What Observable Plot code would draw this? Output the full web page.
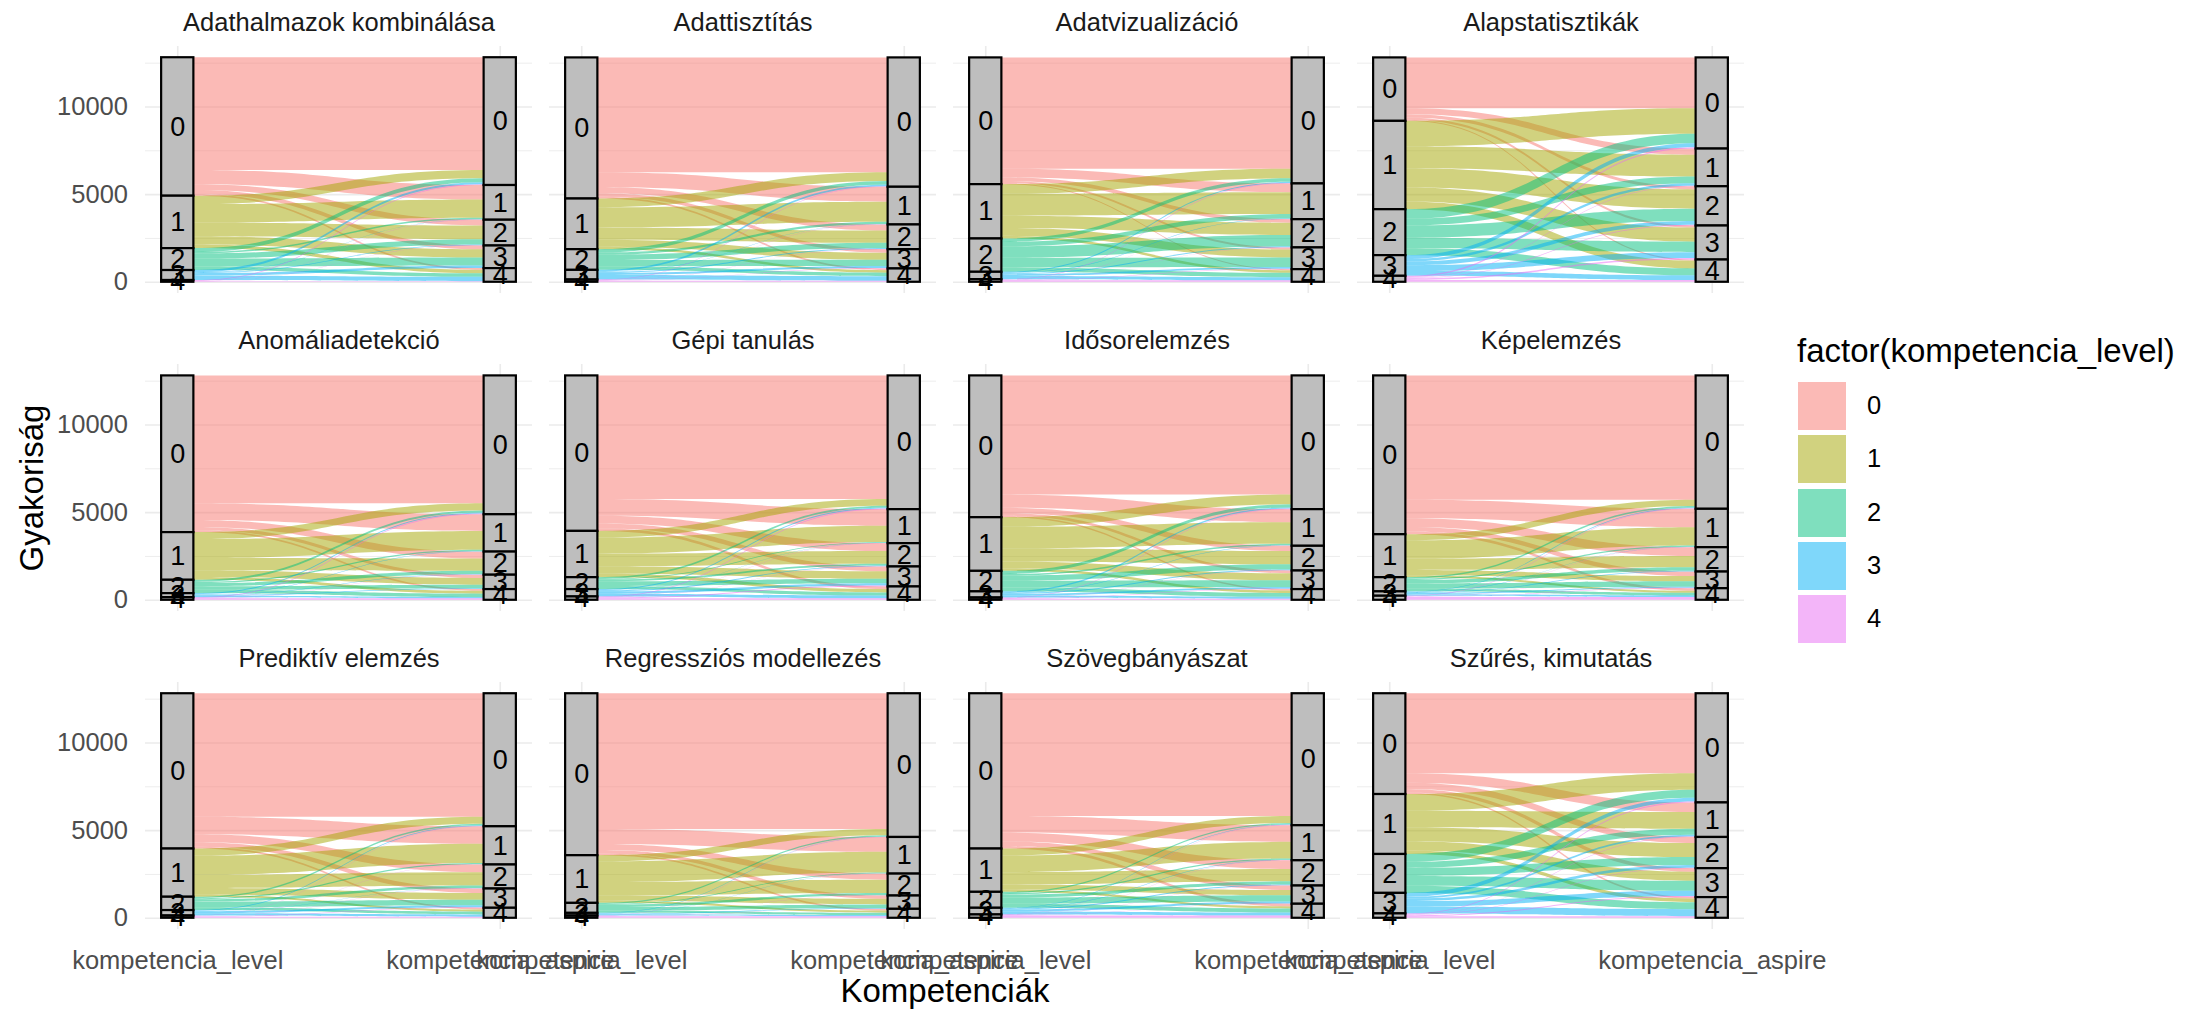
<!DOCTYPE html>
<html>
<head>
<meta charset="utf-8">
<script src="https://cdn.jsdelivr.net/npm/d3@7"></script>
<script src="https://cdn.jsdelivr.net/npm/@observablehq/plot@0.6"></script>
<style>
  html, body { margin: 0; padding: 0; background: #ffffff; }
  #wrap { position: relative; width: 2205px; height: 1011px; overflow: hidden;
          font-family: "Liberation Sans", Arial, Helvetica, sans-serif; }
  #wrap svg { position: absolute; left: 0; top: 0; }
  .lbl { position: absolute; white-space: nowrap; line-height: 1; }
</style>
</head>
<body>
<div id="wrap"></div>
<script>
// ---------------- data ----------------
const facetTitles = [
  "Adathalmazok kombinálása", "Adattisztítás", "Adatvizualizáció", "Alapstatisztikák",
  "Anomáliadetekció", "Gépi tanulás", "Idősorelemzés", "Képelemzés",
  "Prediktív elemzés", "Regressziós modellezés", "Szövegbányászat", "Szűrés, kimutatás"
];
const levelNames = ["0", "1", "2", "3", "4"];
const axisLabels = ["kompetencia_level", "kompetencia_aspire"];
const levelColors = ["#F8766D", "#A3A500", "#00BF7D", "#00B0F6", "#E76BF3"];
const yTicksMajor = [0, 5000, 10000];
const yTicksMinor = [2500, 7500, 12500];
const legendTitle = "factor(kompetencia_level)";
const xTitle = "Kompetenciák";
const yTitle = "Gyakoriság";

// flow counts: rows = kompetencia_level 0..4, columns = kompetencia_aspire 0..4
const flowAdathalmazok = [
  [6430, 820, 330, 220, 100],
  [480, 1050, 790, 470, 200],
  [220, 80, 300, 450, 200],
  [120, 20, 40, 140, 250],
  [40, 10, 10, 10, 30]
];
const flowAdattisztitas = [
  [6550, 850, 350, 200, 100],
  [500, 1150, 700, 400, 140],
  [200, 120, 300, 360, 200],
  [100, 20, 50, 120, 260],
  [30, 10, 10, 20, 60]
];
const flowAdatvizualizacio = [
  [6350, 500, 200, 120, 60],
  [550, 1250, 700, 450, 150],
  [200, 250, 650, 550, 250],
  [60, 30, 50, 100, 180],
  [30, 10, 10, 20, 80]
];
const flowAlapstatisztikak = [
  [2900, 350, 180, 120, 70],
  [1450, 1250, 1100, 800, 440],
  [550, 380, 700, 600, 390],
  [220, 140, 220, 330, 270],
  [80, 30, 40, 90, 100]
];
const flowAnomaliadetekcio = [
  [7300, 950, 400, 190, 100],
  [400, 1080, 700, 380, 160],
  [120, 70, 180, 200, 190],
  [60, 20, 30, 40, 80],
  [40, 10, 10, 10, 80]
];
const flowGepiTanulas = [
  [7050, 950, 450, 270, 150],
  [380, 920, 720, 430, 190],
  [100, 40, 100, 260, 180],
  [60, 20, 50, 130, 160],
  [40, 10, 10, 50, 80]
];
const flowIdosorelemzes = [
  [6800, 750, 300, 160, 80],
  [550, 1220, 750, 400, 140],
  [180, 90, 300, 380, 220],
  [70, 20, 50, 100, 110],
  [30, 10, 10, 20, 60]
];
const flowKepelemzes = [
  [7100, 1050, 500, 260, 150],
  [350, 1040, 650, 300, 110],
  [90, 70, 200, 300, 150],
  [40, 20, 30, 70, 90],
  [30, 10, 10, 20, 160]
];
const flowPrediktiv = [
  [7050, 1000, 450, 260, 100],
  [400, 1100, 750, 380, 120],
  [80, 60, 140, 320, 160],
  [40, 10, 20, 110, 130],
  [20, 10, 10, 30, 60]
];
const flowRegresszios = [
  [7750, 850, 350, 190, 100],
  [350, 1180, 750, 320, 120],
  [70, 40, 130, 200, 130],
  [20, 10, 10, 40, 70],
  [10, 10, 10, 10, 90]
];
const flowSzovegbanyaszat = [
  [7000, 950, 500, 260, 150],
  [400, 950, 700, 300, 120],
  [80, 70, 180, 350, 230],
  [30, 20, 50, 110, 170],
  [20, 10, 10, 20, 130]
];
const flowSzures = [
  [4560, 550, 350, 200, 90],
  [950, 950, 800, 520, 200],
  [450, 350, 450, 570, 400],
  [220, 100, 150, 300, 400],
  [50, 20, 30, 60, 90]
];
const flowMatrices = [
  flowAdathalmazok, flowAdattisztitas, flowAdatvizualizacio, flowAlapstatisztikak,
  flowAnomaliadetekcio, flowGepiTanulas, flowIdosorelemzes, flowKepelemzes,
  flowPrediktiv, flowRegresszios, flowSzovegbanyaszat, flowSzures
];

// ---------------- build tables ----------------
const NCOL = 4;
const hw = 0.05; // half width of a stratum (x units)
const strata = [];
const flowPts = [];
const facetInfo = [];
let T = 0;
flowMatrices.forEach((M, f) => {
  const col = f % NCOL, row = Math.floor(f / NCOL);
  facetInfo.push({col, row, title: facetTitles[f]});
  const L = M.map(r => d3.sum(r));
  const R = levelNames.map((_, k) => d3.sum(M, r => r[k]));
  const total = d3.sum(L);
  T = Math.max(T, total);
  const topL = [], topR = [];
  let acc = total;
  for (let j = 0; j < 5; j++) { topL.push(acc); strata.push({col, row, axis: 1, level: j, y1: acc - L[j], y2: acc}); acc -= L[j]; }
  acc = total;
  for (let k = 0; k < 5; k++) { topR.push(acc); strata.push({col, row, axis: 2, level: k, y1: acc - R[k], y2: acc}); acc -= R[k]; }
  const curL = topL.slice(), curR = topR.slice();
  for (let j = 0; j < 5; j++) {
    for (let k = 0; k < 5; k++) {
      const v = M[j][k];
      if (!v) continue;
      const id = f + "-" + j + "-" + k;
      const l2 = curL[j], l1 = l2 - v; curL[j] = l1;
      const r2 = curR[k], r1 = r2 - v; curR[k] = r1;
      flowPts.push({id, col, row, level: levelNames[j], x: 1 + hw, y1: l1, y2: l2});
      flowPts.push({id, col, row, level: levelNames[j], x: 2 - hw, y1: r1, y2: r2});
    }
  }
});

const FONT = '"Liberation Sans", Arial, Helvetica, sans-serif';

const chart = Plot.plot({
  width: 2205,
  height: 1011,
  marginLeft: 145,
  marginRight: 460,
  marginTop: 46,
  marginBottom: 81.5,
  style: {fontFamily: FONT, background: "transparent", overflow: "visible"},
  x: {domain: [0.9, 2.1]},
  y: {domain: [-0.05 * T, 1.05 * T]},
  fx: {domain: [0, 1, 2, 3], axis: null, paddingInner: 0.042, paddingOuter: 0},
  fy: {domain: [0, 1, 2], axis: null, paddingInner: 0.224, paddingOuter: 0},
  color: {domain: levelNames, range: levelColors},
  marks: [
    Plot.ruleY(yTicksMinor, {stroke: "#EBEBEB", strokeWidth: 0.9}),
    Plot.ruleY(yTicksMajor, {stroke: "#EBEBEB", strokeWidth: 1.6}),
    Plot.ruleX([1, 2], {stroke: "#EBEBEB", strokeWidth: 1.6}),
    Plot.area(flowPts, {
      x1: "x", y1: "y1", y2: "y2", z: "id",
      fill: "level", fillOpacity: 0.5, curve: "bump-x",
      fx: "col", fy: "row"
    }),
    Plot.rect(strata, {
      x1: d => d.axis - hw, x2: d => d.axis + hw, y1: "y1", y2: "y2",
      fill: "#BEBEBE", stroke: "#000000", strokeWidth: 2.2,
      fx: "col", fy: "row"
    }),
    Plot.text(strata, {
      x: "axis", y: d => (d.y1 + d.y2) / 2, text: d => levelNames[d.level],
      fontSize: 27, fill: "#000000", fx: "col", fy: "row"
    }),
    Plot.text(facetInfo, {
      fx: "col", fy: "row", text: "title", frameAnchor: "top", dy: -24,
      lineAnchor: "middle", fontSize: 25.5, fill: "#1A1A1A"
    }),
    Plot.axisY({
      ticks: yTicksMajor, tickSize: 0, tickPadding: 17.5, fontSize: 25.5,
      fill: "#4D4D4D", label: null, tickFormat: d => String(d)
    }),
    Plot.axisX({
      ticks: [1, 2], tickSize: 0, tickPadding: 21, fontSize: 25.5,
      fill: "#4D4D4D", label: null, tickFormat: d => axisLabels[d - 1]
    })
  ]
});

const wrap = document.getElementById("wrap");
wrap.appendChild(chart);

function addLabel(text, css) {
  const el = document.createElement("div");
  el.className = "lbl";
  el.textContent = text;
  Object.assign(el.style, css);
  wrap.appendChild(el);
  return el;
}

// axis titles
addLabel(xTitle, {left: "945px", top: "991px", fontSize: "33px", lineHeight: "1.15", color: "#000",
  transform: "translate(-50%, -50%)"});
addLabel(yTitle, {left: "31px", top: "488px", fontSize: "33px", color: "#000",
  transform: "translate(-50%, -50%) rotate(-90deg)"});

// legend
addLabel(legendTitle, {left: "1797px", top: "350px", fontSize: "33px", color: "#000",
  transform: "translate(0, -50%)"});
levelNames.forEach((name, i) => {
  const top = 382 + i * 53.3;
  const key = document.createElement("div");
  Object.assign(key.style, {position: "absolute", left: "1798px", top: top + "px",
    width: "48px", height: "48px", background: levelColors[i], opacity: 0.5});
  wrap.appendChild(key);
  addLabel(name, {left: "1867px", top: (top + 24) + "px", fontSize: "25.5px", color: "#000",
    transform: "translate(0, -50%)"});
});
</script>
</body>
</html>
